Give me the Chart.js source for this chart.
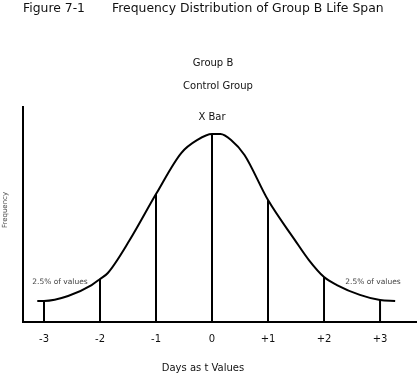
<!DOCTYPE html>
<html>
<head>
<meta charset="utf-8">
<script src="https://cdn.jsdelivr.net/npm/chart.js@4.4.1/dist/chart.umd.min.js"></script>
<style>
  html, body { margin: 0; padding: 0; background: #fff; }
  #wrap { width: 417px; height: 375px; position: relative; }
</style>
</head>
<body>
<div id="wrap"><canvas id="chart"></canvas></div>
<script>
// t values along the bottom and their labels
const tValues = [-3, -2, -1, 0, 1, 2, 3]
const tickLabels = ["-3", "-2", "-1", "0", "+1", "+2", "+3"]
// height of the vertical line drawn at each t value
const lineHeights = [9.8, 20, 59.5, 87.4, 56.7, 20.9, 10.2]

// frequency curve
const curveT = [-3.12, -3, -2.57, -2.15, -2, -1.86, -1.47, -1, -0.55, -0.26, 0, 0.15, 0.34, 0.58, 1, 1.48, 1.73, 2, 2.23, 2.64, 3, 3.27]
const curveFreq = [9.8, 9.8, 12.1, 17.2, 20, 22.8, 38.1, 59.5, 78.6, 84.7, 87.4, 87.4, 84.7, 77.7, 56.7, 38.1, 28.8, 20.9, 17.2, 12.6, 10.2, 9.8]

const FONT = "'DejaVu Sans', sans-serif"

const datasets = []
datasets.push({
    data: curveT.map((t, i) => ({x: t, y: curveFreq[i]})),
    borderColor: '#000',
    borderWidth: 2,
    pointRadius: 0,
    tension: 0.35,
    cubicInterpolationMode: 'monotone'
})
tValues.forEach((t, i) => {
    datasets.push({
        data: [{x: t, y: 0}, {x: t, y: lineHeights[i]}],
        borderColor: '#000',
        borderWidth: 2,
        pointRadius: 0
    })
})

const textPlugin = {
    id: 'texts',
    afterDraw(chart) {
        const ctx = chart.ctx
        const xs = chart.scales.x
        ctx.save()
        ctx.fillStyle = '#111'
        ctx.textBaseline = 'middle'
        ctx.textAlign = 'left'
        ctx.font = '12.4px ' + FONT
        ctx.fillText('Figure 7-1', 23, 9)
        ctx.fillText('Frequency Distribution of Group B Life Span', 112, 9)
        ctx.textAlign = 'center'
        ctx.font = '10px ' + FONT
        ctx.fillText('Group B', 213, 63)
        ctx.fillText('Control Group', 218, 86)
        ctx.fillText('X Bar', xs.getPixelForValue(0), 117)
        ctx.fillText('Days as t Values', 203, 368)
        ctx.fillStyle = '#444'
        ctx.font = '7.5px ' + FONT
        ctx.fillText('2.5% of values', 60, 282)
        ctx.fillText('2.5% of values', 373, 282)
        ctx.translate(5, 210)
        ctx.rotate(-Math.PI / 2)
        ctx.font = '7px ' + FONT
        ctx.fillText('Frequency', 0, 0)
        ctx.restore()
    }
}

const ctx = document.getElementById('chart').getContext('2d')
const myChart = new Chart(ctx, {
    type: 'line',
    data: { datasets: datasets },
    options: {
        responsive: true,
        maintainAspectRatio: false,
        animation: false,
        layout: { padding: { top: 107, left: 23, right: 0, bottom: 0 } },
        plugins: {
            legend: { display: false },
            tooltip: { enabled: false }
        },
        scales: {
            x: {
                type: 'linear',
                min: -3.375,
                max: 3.66,
                afterBuildTicks: (scale) => {
                    scale.ticks = tValues.map(v => ({value: v}))
                },
                afterFit: (scale) => { scale.height = 53 },
                grid: { display: false, drawTicks: false },
                border: { display: true, color: '#000', width: 2 },
                ticks: {
                    padding: 11,
                    color: '#111',
                    font: { family: FONT, size: 10 },
                    callback: (v) => tickLabels[tValues.indexOf(v)]
                }
            },
            y: {
                min: 0,
                max: 100,
                afterFit: (scale) => { scale.width = 0 },
                grid: { display: false, drawTicks: false },
                border: { display: true, color: '#000', width: 2 },
                ticks: { display: false }
            }
        }
    },
    plugins: [textPlugin]
})
</script>
</body>
</html>
